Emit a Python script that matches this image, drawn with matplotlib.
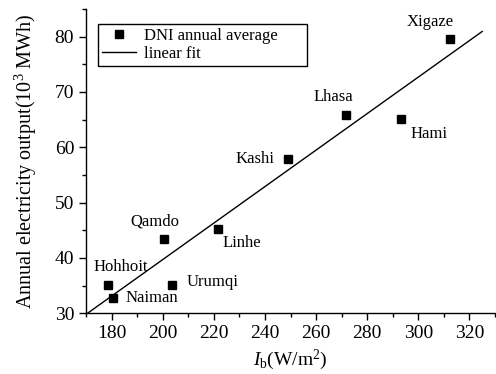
import matplotlib
matplotlib.use("Agg")
import matplotlib.pyplot as plt
import numpy as np
from matplotlib.ticker import MultipleLocator

# DNI annual average vs annual electricity output for each site
sites = ["Hohhoit", "Naiman", "Qamdo", "Urumqi", "Linhe",
         "Kashi", "Lhasa", "Hami", "Xigaze"]
dni = [178.5, 180.5, 200.7, 203.8, 221.5, 248.9, 271.7, 293.4, 312.2]
output = [35.1, 32.7, 43.4, 35.2, 45.2, 57.8, 65.9, 65.1, 79.6]

# label placement (pixel offset from point, horizontal alignment, vertical alignment)
label_pos = {
    "Hohhoit": ((13, 18), "center", "center"),
    "Naiman": ((13, 0), "left", "center"),
    "Qamdo": ((-10, 18), "center", "center"),
    "Urumqi": ((14, 3), "left", "center"),
    "Linhe": ((5, -14), "left", "center"),
    "Kashi": ((-13, 0), "right", "center"),
    "Lhasa": ((-13, 18), "center", "center"),
    "Hami": ((9, -15), "left", "center"),
    "Xigaze": ((-19, 17), "center", "center"),
}

plt.rcParams["font.family"] = ["Liberation Serif", "DejaVu Serif"]
plt.rcParams["mathtext.fontset"] = "custom"
plt.rcParams["mathtext.rm"] = "Liberation Serif"
plt.rcParams["mathtext.it"] = "Liberation Serif:italic"

fig = plt.figure(figsize=(4.96, 3.74), dpi=100)
ax = fig.add_axes([0.1734, 0.1623, 0.8246, 0.8137])

x = np.array(dni)
y = np.array(output)
slope, intercept = np.polyfit(x, y, 1)
xf = np.array([170, 325])

ax.plot(x, y, "s", color="black", markersize=6, label="DNI annual average", zorder=3)
ax.plot(xf, slope * xf + intercept, "-", color="black", linewidth=1.0, label="linear fit")

for name, xi, yi in zip(sites, dni, output):
    (dx, dy), ha, va = label_pos[name]
    ax.annotate(name, (xi, yi), xytext=(dx, dy), textcoords="offset pixels",
                ha=ha, va=va, fontsize=12)

ax.xaxis.set_major_locator(MultipleLocator(20))
ax.xaxis.set_minor_locator(MultipleLocator(10))
ax.yaxis.set_major_locator(MultipleLocator(10))
ax.yaxis.set_minor_locator(MultipleLocator(5))
ax.set_xlim(170, 330)
ax.set_ylim(30, 85)
ax.tick_params(which="major", direction="out", length=5, width=1, labelsize=14)
ax.tick_params(which="minor", direction="out", length=3, width=1)
ax.spines["top"].set_visible(False)
ax.spines["right"].set_visible(False)
for s in ("left", "bottom"):
    ax.spines[s].set_linewidth(1.0)

ax.set_xlabel(r"$I_\mathrm{b}$(W/m$^2$)", fontsize=14, labelpad=4)
ax.set_ylabel(r"Annual electricity output(10$^3$ MWh)", fontsize=14.5)
ax.yaxis.set_label_coords(-0.115, 0.5)

leg = ax.legend(loc="upper left", bbox_to_anchor=(0.03, 0.951, 0.51, 0.0),
                mode="expand", fontsize=12,
                frameon=True, fancybox=False, edgecolor="black", framealpha=1,
                borderpad=0.25, labelspacing=0.1, handlelength=2.0,
                handletextpad=0.5, borderaxespad=0)
leg.get_frame().set_linewidth(1.0)

fig.savefig("out.png", dpi=100)
